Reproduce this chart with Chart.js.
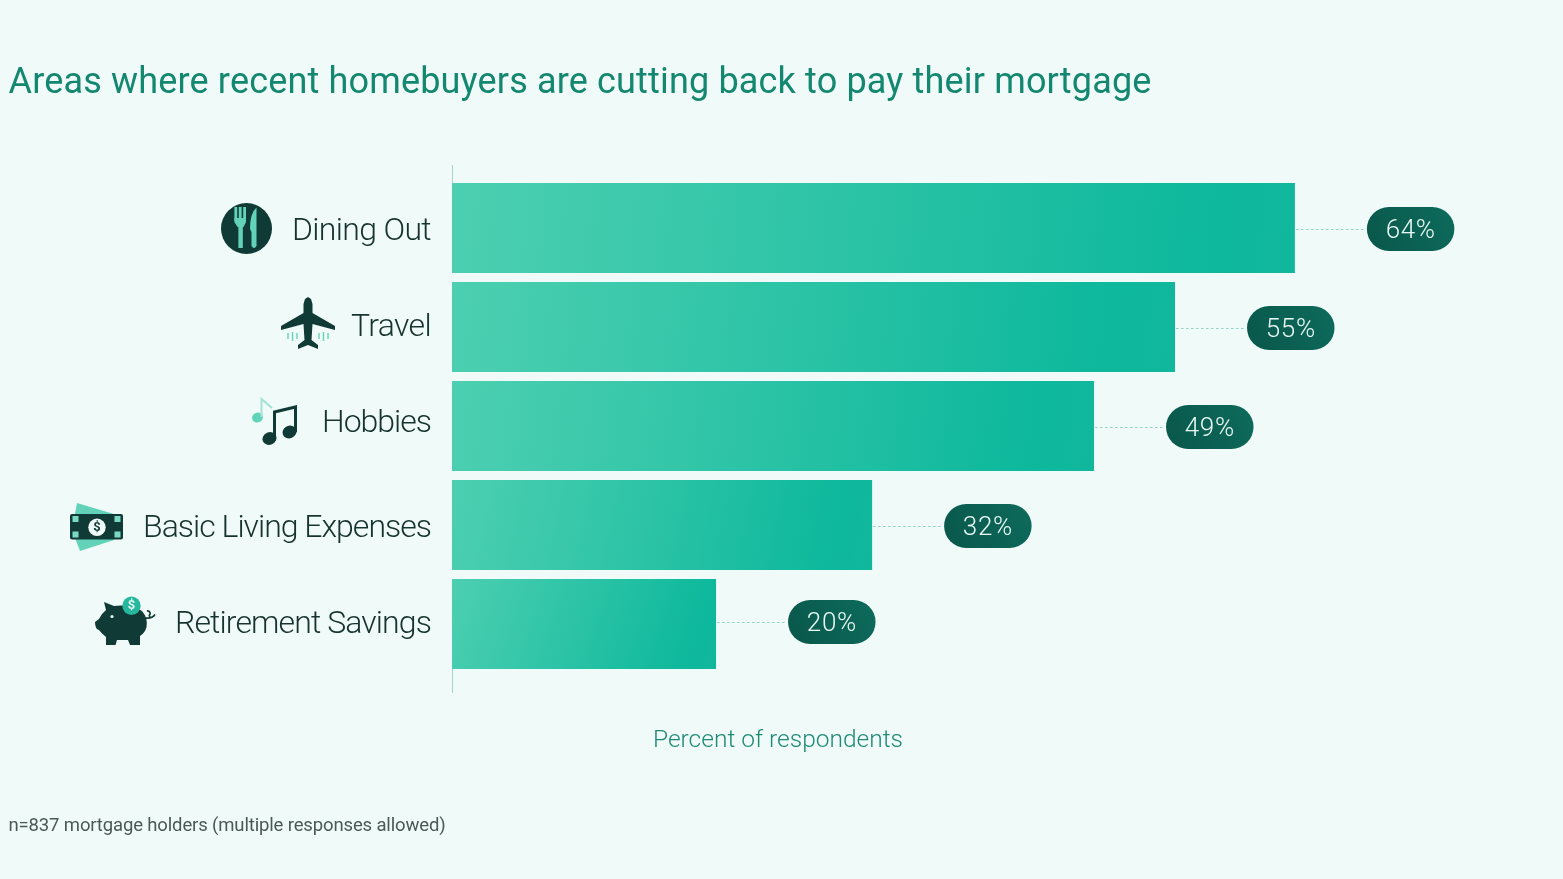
<!DOCTYPE html>
<html>
<head>
<meta charset="utf-8">
<title>Areas where recent homebuyers are cutting back</title>
<script src="https://cdn.jsdelivr.net/npm/chart.js@4"></script>
<style>
  html, body { margin: 0; padding: 0; background: #f0fbf9; }
  canvas { display: block; }
</style>
</head>
<body>
<canvas id="chart" width="1563" height="879"></canvas>
<script>
const categories = ['Dining Out', 'Travel', 'Hobbies', 'Basic Living Expenses', 'Retirement Savings'];
const barValues = [64, 54.9, 48.75, 31.9, 20.05];
const pctLabels = ['64%', '55%', '49%', '32%', '20%'];
const titleText = 'Areas where recent homebuyers are cutting back to pay their mortgage';
const axisTitle = 'Percent of respondents';
const footnote = 'n=837 mortgage holders (multiple responses allowed)';

// the labels and pills do not sit exactly on the bar centres in the original
const labelNudge = [4, 1, -2, 4, 1];
const pillNudge = [1, 1, 1, 1, -2];
const labelWidths = [139, 80, 109, 288, 256];

const DARK = '#103a35';
const LIGHT = '#62d3b9';
const FONT = 'Roboto, sans-serif';

function fitText(ctx, text, x, y, width, align) {
  ctx.letterSpacing = '0px';
  const natural = ctx.measureText(text).width;
  const spacing = (width - natural) / text.length;
  ctx.letterSpacing = spacing.toFixed(3) + 'px';
  const left = align === 'right' ? x - width : align === 'center' ? x - width / 2 : x;
  ctx.textAlign = 'left';
  ctx.fillText(text, left, y);
  ctx.letterSpacing = '0px';
}

function barGradient(context) {
  const chart = context.chart;
  if (!chart.chartArea) return '#2cc4a6';
  const i = context.dataIndex;
  const x0 = chart.scales.x.getPixelForValue(0);
  const x1 = chart.scales.x.getPixelForValue(barValues[i]);
  const y = chart.scales.y.getPixelForValue(i);
  const grad = chart.ctx.createLinearGradient(x0, y - 45, x1, y + 45);
  grad.addColorStop(0, '#4dcfb1');
  grad.addColorStop(0.9, '#0db89c');
  grad.addColorStop(1, '#11b79c');
  return grad;
}

function poly(ctx, pts, color) {
  ctx.fillStyle = color;
  ctx.beginPath();
  pts.forEach((p, i) => (i ? ctx.lineTo(p[0], p[1]) : ctx.moveTo(p[0], p[1])));
  ctx.closePath();
  ctx.fill();
}

function dot(ctx, x, y, r, color) {
  ctx.fillStyle = color;
  ctx.beginPath();
  ctx.arc(x, y, r, 0, Math.PI * 2);
  ctx.fill();
}

function drawDining(ctx) {
  dot(ctx, 246.5, 228.5, 25.5, DARK);
  ctx.fillStyle = LIGHT;
  ctx.fillRect(238.4, 222, 4.4, 26);
  [234.4, 238.8, 243.2].forEach((x) => ctx.fillRect(x, 207, 2.8, 14));
  poly(ctx, [[234.4, 218], [246, 218], [246, 222], [243.5, 227], [237.5, 227], [234.4, 222]], LIGHT);
  ctx.beginPath();
  ctx.moveTo(256.5, 207.5);
  ctx.quadraticCurveTo(250, 213, 250, 229);
  ctx.lineTo(251.5, 232);
  ctx.lineTo(251.5, 246);
  ctx.quadraticCurveTo(254, 250, 256.5, 246);
  ctx.closePath();
  ctx.fill();
}

function drawPlane(ctx) {
  ctx.strokeStyle = LIGHT;
  ctx.lineWidth = 1.4;
  [288, 292.5, 297, 319, 323.5, 328].forEach((x, i) => {
    ctx.beginPath();
    ctx.moveTo(x, i === 1 || i === 4 ? 332 : 333);
    ctx.lineTo(x, i === 1 || i === 4 ? 341 : 339);
    ctx.stroke();
  });
  poly(ctx, [[303.5, 304], [305, 299], [308, 297], [311, 299], [312.5, 304], [312.5, 313], [335, 326], [335, 330],
    [312.5, 324], [311.5, 340], [318, 345], [318, 349], [308, 345], [298, 349], [298, 345], [304.5, 340],
    [303.5, 324], [281, 330], [281, 326], [303.5, 313]], DARK);
}

function drawMusic(ctx) {
  ctx.fillStyle = LIGHT;
  ctx.beginPath();
  ctx.ellipse(257.5, 417.5, 5.5, 5, -0.4, 0, Math.PI * 2);
  ctx.fill();
  ctx.strokeStyle = '#a5e2d4';
  ctx.lineWidth = 2;
  ctx.beginPath();
  ctx.moveTo(261.5, 417);
  ctx.lineTo(261.5, 399);
  ctx.lineTo(272, 408);
  ctx.stroke();
  ctx.strokeStyle = DARK;
  ctx.lineWidth = 3;
  ctx.beginPath();
  ctx.moveTo(274.5, 438);
  ctx.lineTo(274.5, 412);
  ctx.lineTo(295.5, 407);
  ctx.lineTo(295.5, 432);
  ctx.stroke();
  ctx.fillStyle = DARK;
  ctx.beginPath();
  ctx.ellipse(269.5, 438.5, 7.2, 6.3, -0.4, 0, Math.PI * 2);
  ctx.ellipse(289.5, 432, 7.2, 6.3, -0.4, 0, Math.PI * 2);
  ctx.fill();
}

function drawMoney(ctx) {
  poly(ctx, [[77, 503], [114, 514], [114, 540], [80, 551], [72, 530]], LIGHT);
  ctx.fillStyle = DARK;
  ctx.beginPath();
  ctx.roundRect(70, 514, 53, 25.5, 2);
  ctx.fill();
  ctx.fillStyle = '#7ad9c3';
  [[72.5, 516], [72.5, 531.5], [114.5, 516], [114.5, 531.5]].forEach((p) => ctx.fillRect(p[0], p[1], 6, 6));
  dot(ctx, 97, 527.3, 8.7, '#f0fbf9');
  ctx.fillStyle = DARK;
  ctx.font = 'bold 13px ' + FONT;
  ctx.textAlign = 'center';
  ctx.textBaseline = 'middle';
  ctx.fillText('$', 97, 527.8);
}

function drawPig(ctx) {
  ctx.fillStyle = DARK;
  ctx.beginPath();
  ctx.moveTo(95, 622);
  ctx.lineTo(99, 619);
  ctx.quadraticCurveTo(101, 614, 106, 610);
  ctx.lineTo(104, 602);
  ctx.lineTo(114, 606);
  ctx.quadraticCurveTo(130, 604, 142, 611);
  ctx.quadraticCurveTo(148, 618, 146.5, 627);
  ctx.quadraticCurveTo(145, 633, 140, 636);
  ctx.lineTo(140, 645);
  ctx.lineTo(130, 645);
  ctx.lineTo(128, 640);
  ctx.lineTo(117, 640);
  ctx.lineTo(115.5, 645);
  ctx.lineTo(106, 645);
  ctx.lineTo(106, 637);
  ctx.quadraticCurveTo(101, 633, 99, 630);
  ctx.quadraticCurveTo(95, 629, 95, 622);
  ctx.closePath();
  ctx.fill();
  dot(ctx, 112, 616.5, 1.6, '#e6f8f4');
  ctx.strokeStyle = DARK;
  ctx.lineWidth = 1.7;
  ctx.beginPath();
  ctx.moveTo(145, 618);
  ctx.quadraticCurveTo(152, 619, 155, 614.5);
  ctx.moveTo(150, 618);
  ctx.arc(147.5, 613.5, 2.6, 0.8, 4.5, true);
  ctx.stroke();
  dot(ctx, 131.5, 605.7, 9.2, '#27b79d');
  ctx.fillStyle = '#e6f8f4';
  ctx.font = 'bold 13px ' + FONT;
  ctx.textAlign = 'center';
  ctx.textBaseline = 'middle';
  ctx.fillText('$', 131.5, 606.2);
}

const overlay = {
  id: 'overlay',
  afterDatasetsDraw(chart) {
    const { ctx, scales } = chart;
    const bars = chart.getDatasetMeta(0).data;
    ctx.save();

    // vertical axis line runs past the first and last bar
    ctx.strokeStyle = '#a3d6cc';
    ctx.lineWidth = 1;
    ctx.beginPath();
    ctx.moveTo(452.5, 165);
    ctx.lineTo(452.5, 183);
    ctx.moveTo(452.5, 669);
    ctx.lineTo(452.5, 693);
    ctx.stroke();

    bars.forEach((bar, i) => {
      const midY = scales.y.getPixelForValue(i);
      const pillY = midY + pillNudge[i];
      const pillX = bar.x + 72;

      ctx.strokeStyle = '#8fd3c6';
      ctx.lineWidth = 1;
      ctx.setLineDash([2.5, 2.5]);
      ctx.beginPath();
      ctx.moveTo(bar.x + 1, pillY + 0.5);
      ctx.lineTo(pillX - 2, pillY + 0.5);
      ctx.stroke();
      ctx.setLineDash([]);

      const pill = ctx.createLinearGradient(pillX, pillY + 22, pillX + 87, pillY - 22);
      pill.addColorStop(0, '#09574b');
      pill.addColorStop(1, '#0d6b5b');
      ctx.fillStyle = pill;
      ctx.beginPath();
      ctx.roundRect(pillX, pillY - 22, 87.5, 44, 22);
      ctx.fill();

      ctx.fillStyle = '#e8f9f5';
      ctx.font = '300 26px ' + FONT;
      ctx.textBaseline = 'middle';
      fitText(ctx, pctLabels[i], pillX + 43.75, pillY + 2, 50, 'center');

      ctx.fillStyle = '#17332f';
      ctx.font = '300 32px ' + FONT;
      ctx.textBaseline = 'middle';
      fitText(ctx, scales.y.getLabels()[i], 431, midY + labelNudge[i], labelWidths[i], 'right');
    });

    drawDining(ctx);
    drawPlane(ctx);
    drawMusic(ctx);
    drawMoney(ctx);
    drawPig(ctx);

    ctx.textBaseline = 'alphabetic';
    ctx.fillStyle = '#13876f';
    ctx.font = '400 36px ' + FONT;
    fitText(ctx, titleText, 8.5, 93, 1143, 'left');

    ctx.fillStyle = '#1f8a75';
    ctx.font = '300 24.5px ' + FONT;
    fitText(ctx, axisTitle, 778, 747, 250, 'center');

    ctx.fillStyle = '#4a5857';
    ctx.font = '400 18.5px ' + FONT;
    fitText(ctx, footnote, 8.5, 831, 437, 'left');
    ctx.restore();
  }
};

new Chart(document.getElementById('chart'), {
  type: 'bar',
  data: {
    labels: categories,
    datasets: [{
      data: barValues,
      backgroundColor: barGradient,
      borderWidth: 0,
      barPercentage: 90 / 99,
      categoryPercentage: 1
    }]
  },
  options: {
    indexAxis: 'y',
    responsive: false,
    animation: false,
    layout: { padding: { left: 452, right: 57.4, top: 178.5, bottom: 205.5 } },
    plugins: { legend: { display: false }, tooltip: { enabled: false }, title: { display: false } },
    scales: {
      x: { display: false, min: 0, max: 80 },
      y: { display: false }
    }
  },
  plugins: [overlay]
});
</script>
</body>
</html>
